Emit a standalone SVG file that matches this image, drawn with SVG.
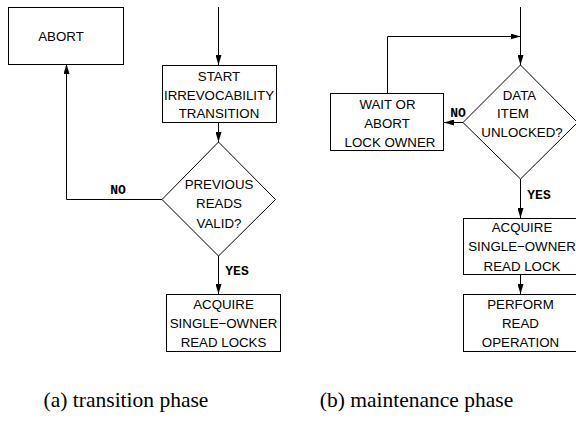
<svg xmlns="http://www.w3.org/2000/svg" width="576" height="434" viewBox="0 0 576 434">
  <defs>
    <marker id="ah" markerWidth="10" markerHeight="6" refX="10" refY="3" orient="auto" markerUnits="userSpaceOnUse">
      <path d="M0,0 L10,3 L0,6 z" fill="#000"/>
    </marker>
    <style>
      .box { fill: #fff; stroke: #000; stroke-width: 1; }
      .t { font-family: "Liberation Sans", Arial, sans-serif; font-size: 13.3px; fill: #000; text-anchor: middle; }
      .lbl { font-family: "Liberation Mono", "Courier New", monospace; font-weight: bold; font-size: 13px; fill: #000; text-anchor: middle; }
      .cap { font-family: "Liberation Serif", "Times New Roman", serif; font-size: 21.5px; fill: #000; text-anchor: middle; }
      .c { fill: none; stroke: #000; stroke-width: 1; }
      .a { marker-end: url(#ah); }
    </style>
  </defs>
  <rect width="576" height="434" fill="#fff"/>

  <!-- connectors -->
  <g id="connectors">
    <!-- (a) transition phase -->
    <path class="c a" d="M218.5,7 V65"/>
    <path class="c a" d="M218.5,123 V142"/>
    <path class="c a" d="M162,199.5 H66.5 V64"/>
    <path class="c a" d="M218.5,256 V294"/>
    <!-- (b) maintenance phase -->
    <path class="c a" d="M520.5,7 V65"/>
    <path class="c a" d="M387.5,93 V36.5 H520.5"/>
    <path class="c a" d="M463,122.5 H444"/>
    <path class="c a" d="M520.5,179 V218"/>
    <path class="c a" d="M520.5,275 V294"/>
    <text class="lbl" x="118" y="194">NO</text>
    <text class="lbl" x="237" y="275">YES</text>
    <text class="lbl" x="458" y="117">NO</text>
    <text class="lbl" x="539" y="199">YES</text>
  </g>

  <!-- (a) nodes -->
  <g id="abort">
    <rect class="box" x="8.5" y="7.5" width="115" height="57"/>
    <text class="t" x="61" y="41">ABORT</text>
  </g>
  <g id="start-transition">
    <rect class="box" x="162.5" y="65.5" width="114" height="57"/>
    <text class="t" x="219" y="81">START</text>
    <text class="t" x="219" y="100">IRREVOCABILITY</text>
    <text class="t" x="219" y="118">TRANSITION</text>
  </g>
  <g id="reads-valid">
    <polygon class="box" points="218.5,142 275.5,199.5 218.5,256 162,199.5"/>
    <text class="t" x="219" y="189">PREVIOUS</text>
    <text class="t" x="219" y="208">READS</text>
    <text class="t" x="219" y="228">VALID?</text>
  </g>
  <g id="acquire-locks">
    <rect class="box" x="166.5" y="294.5" width="114" height="57"/>
    <text class="t" x="223.5" y="309">ACQUIRE</text>
    <text class="t" x="223.5" y="328">SINGLE−OWNER</text>
    <text class="t" x="223.5" y="347">READ LOCKS</text>
  </g>

  <!-- (b) nodes -->
  <g id="item-unlocked">
    <polygon class="box" points="520.5,65 577.5,122.5 520.5,179 463,122.5"/>
    <text class="t" x="519.5" y="100">DATA</text>
    <text class="t" x="513" y="118">ITEM</text>
    <text class="t" x="522" y="137">UNLOCKED?</text>
  </g>
  <g id="wait-or-abort">
    <rect class="box" x="330.5" y="93.5" width="113" height="57"/>
    <text class="t" x="387.5" y="109">WAIT OR</text>
    <text class="t" x="387" y="128">ABORT</text>
    <text class="t" x="390" y="147">LOCK OWNER</text>
  </g>
  <g id="acquire-lock">
    <rect class="box" x="463.5" y="218.5" width="116" height="56"/>
    <text class="t" x="522" y="232">ACQUIRE</text>
    <text class="t" x="522" y="251">SINGLE−OWNER</text>
    <text class="t" x="522" y="271">READ LOCK</text>
  </g>
  <g id="perform-read">
    <rect class="box" x="463.5" y="294.5" width="116" height="57"/>
    <text class="t" x="520.5" y="309">PERFORM</text>
    <text class="t" x="520.5" y="328">READ</text>
    <text class="t" x="520.5" y="347">OPERATION</text>
  </g>

  <!-- captions -->
  <text class="cap" x="126" y="407">(a) transition phase</text>
  <text class="cap" x="416.5" y="407">(b) maintenance phase</text>
</svg>
